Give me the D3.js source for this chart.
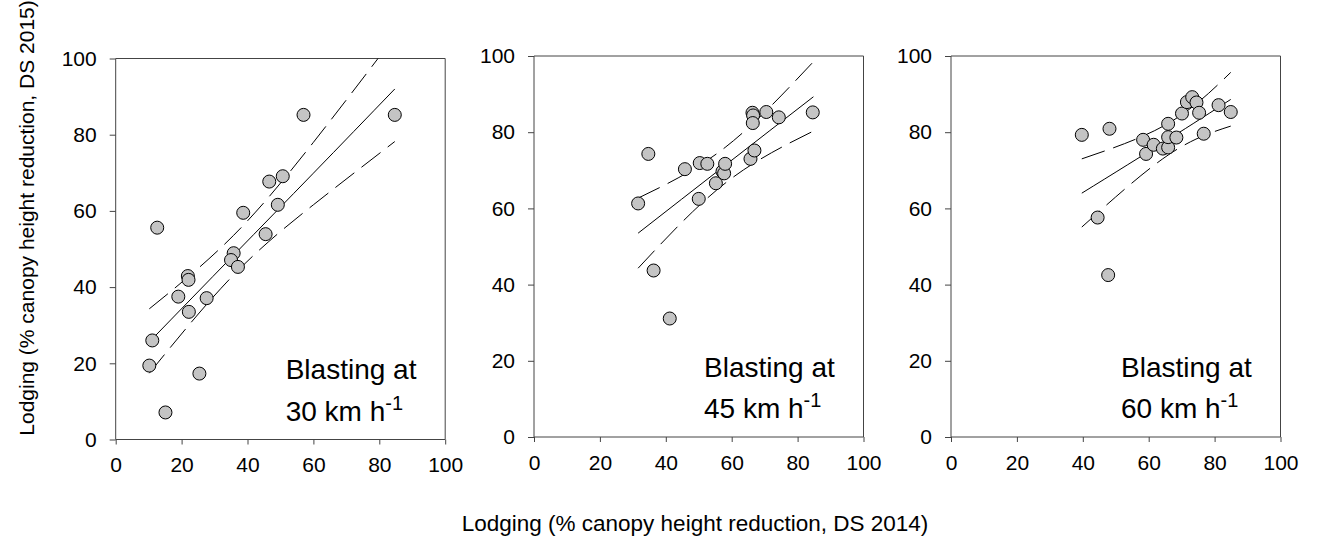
<!DOCTYPE html>
<html>
<head>
<meta charset="utf-8">
<script src="https://cdn.jsdelivr.net/npm/d3@7"></script>
<style>
  html, body { margin: 0; padding: 0; background: #fff; }
  svg { display: block; font-family: "Liberation Sans", Arial, sans-serif; }
</style>
</head>
<body>
<svg id="chart" width="1320" height="554"></svg>
<script>
// ---- data ----
const panelLabels = ["30", "45", "60"];
const xTicks = [0, 20, 40, 60, 80, 100];
const yTicks = [0, 20, 40, 60, 80, 100];

const x30 = [12.6, 57.0, 84.7, 50.7, 46.6, 49.2, 38.7, 45.5, 35.8, 35.0, 37.1, 21.9, 22.1, 19.0, 27.6, 22.2, 11.1, 10.2, 25.4, 15.1];
const y30 = [55.6, 85.2, 85.2, 69.1, 67.7, 61.6, 59.5, 53.9, 48.9, 47.1, 45.3, 42.9, 41.9, 37.5, 37.1, 33.5, 26.0, 19.4, 17.3, 7.1];

const x45 = [34.7, 31.6, 36.3, 41.2, 45.8, 50.3, 52.6, 50.0, 55.2, 57.2, 57.7, 58.0, 66.3, 66.5, 66.4, 70.5, 74.3, 84.6, 65.7, 66.9];
const y45 = [74.3, 61.3, 43.7, 31.1, 70.3, 71.9, 71.7, 62.5, 66.6, 69.7, 69.2, 71.7, 85.1, 84.4, 82.4, 85.3, 83.9, 85.2, 73.0, 75.2];

const x60 = [39.7, 48.1, 44.5, 47.7, 58.3, 59.2, 61.5, 64.3, 65.9, 65.9, 68.4, 65.9, 70.1, 71.6, 73.2, 74.5, 75.3, 76.7, 81.2, 84.9];
const y60 = [79.3, 80.9, 57.6, 42.5, 78.0, 74.3, 76.7, 75.7, 76.0, 78.7, 78.6, 82.2, 84.9, 87.9, 89.2, 87.8, 85.1, 79.6, 87.1, 85.3];

// regression line and 95% confidence bands, read at a few x positions
const fitX30 = [10.2, 35.8, 60.0, 84.7];
const fit30  = [25.6, 48.4, 69.9, 92.0];
const up30   = [34.3, 53.6, 78.0, 105.8];
const lo30   = [17.4, 43.2, 61.6, 78.2];

const fitX45 = [31.6, 58.0, 84.8];
const fit45  = [53.5, 71.3, 89.3];
const up45   = [62.7, 76.0, 98.5];
const lo45   = [44.3, 66.6, 80.3];

const fitX60 = [39.7, 65.9, 84.9];
const fit60  = [64.0, 78.1, 88.6];
const up60   = [73.0, 82.3, 95.7];
const lo60   = [55.1, 74.0, 81.6];

const xTitle = "Lodging (% canopy height reduction, DS 2014)";
const yTitle = "Lodging (% canopy height reduction, DS 2015)";

const panels = [
  { label: panelLabels[0], xs: x30, ys: y30, fx: fitX30, fit: fit30, up: up30, lo: lo30 },
  { label: panelLabels[1], xs: x45, ys: y45, fx: fitX45, fit: fit45, up: up45, lo: lo45 },
  { label: panelLabels[2], xs: x60, ys: y60, fx: fitX60, fit: fit60, up: up60, lo: lo60 }
];

// ---- layout ----
const lefts = [115.7, 534, 951];
const tops = [58.5, 56, 56];
const W = 329.5, H = 381;
const axisColor = "#444";
const fs = 21;

const svg = d3.select("#chart");
const defs = svg.append("defs");

panels.forEach((p, i) => {
  const L = lefts[i], T = tops[i];
  const xs = d3.scaleLinear().domain([0, 100]).range([L, L + W]);
  const ysc = d3.scaleLinear().domain([0, 100]).range([T + H, T]);
  const g = svg.append("g");

  const clipId = "clip" + i;
  defs.append("clipPath").attr("id", clipId)
    .append("rect").attr("x", L).attr("y", T).attr("width", W).attr("height", H);

  // frame top / right
  g.append("line").attr("x1", L).attr("x2", L + W).attr("y1", T).attr("y2", T)
    .attr("stroke", axisColor).attr("stroke-width", 1);
  g.append("line").attr("x1", L + W).attr("x2", L + W).attr("y1", T).attr("y2", T + H)
    .attr("stroke", axisColor).attr("stroke-width", 1);

  // axes
  const xAxis = d3.axisBottom(xs).tickValues(xTicks).tickSize(5).tickPadding(13).tickFormat(d3.format("d"));
  const yAxis = d3.axisLeft(ysc).tickValues(yTicks).tickSize(6).tickPadding(13).tickFormat(d3.format("d"));
  const gx = g.append("g").attr("transform", `translate(0,${T + H})`).call(xAxis);
  const gy = g.append("g").attr("transform", `translate(${L},0)`).call(yAxis);
  [gx, gy].forEach(ax => {
    ax.select(".domain").attr("stroke", axisColor).attr("stroke-width", 1);
    ax.selectAll(".tick line").attr("stroke", axisColor).attr("stroke-width", 1);
    ax.selectAll(".tick text").attr("font-size", fs).attr("fill", "#000")
      .attr("font-family", "Liberation Sans, Arial, sans-serif");
  });
  gx.select(".domain").attr("d", `M${L},0H${L + W}`);
  gy.select(".domain").attr("d", `M0,${T + H}V${T}`);

  // regression + confidence bands
  const lg = g.append("g").attr("clip-path", `url(#${clipId})`);
  const line = d3.line().x(d => xs(d[0])).y(d => ysc(d[1])).curve(d3.curveNatural);
  lg.append("path").attr("d", line(d3.zip(p.fx, p.fit))).attr("fill", "none")
    .attr("stroke", "#000").attr("stroke-width", 1);
  [p.up, p.lo].forEach(arr => {
    lg.append("path").attr("d", line(d3.zip(p.fx, arr))).attr("fill", "none")
      .attr("stroke", "#000").attr("stroke-width", 1)
      .attr("stroke-dasharray", "24,9");
  });

  // points
  g.append("g").selectAll("circle").data(d3.zip(p.xs, p.ys)).join("circle")
    .attr("cx", d => xs(d[0])).attr("cy", d => ysc(d[1])).attr("r", 6.5)
    .attr("fill", "#c4c4c4").attr("stroke", "#000").attr("stroke-width", 1);

  // panel label
  const tx = L + 170;
  g.append("text").attr("x", tx).attr("y", T + 320.5).attr("font-size", 28)
    .attr("fill", "#000").text("Blasting at");
  const t2 = g.append("text").attr("x", tx).attr("y", T + 362).attr("font-size", 28).attr("fill", "#000");
  t2.append("tspan").text(p.label + " km h");
  t2.append("tspan").attr("font-size", 20).attr("dy", -11).text("-1");
});

// axis titles
svg.append("text").attr("x", 695).attr("y", 531).attr("text-anchor", "middle")
  .attr("font-size", 22.5).attr("fill", "#000").text(xTitle);
svg.append("text").attr("transform", "translate(34,218) rotate(-90)")
  .attr("text-anchor", "middle").attr("font-size", fs).attr("fill", "#000").text(yTitle);
</script>
</body>
</html>
